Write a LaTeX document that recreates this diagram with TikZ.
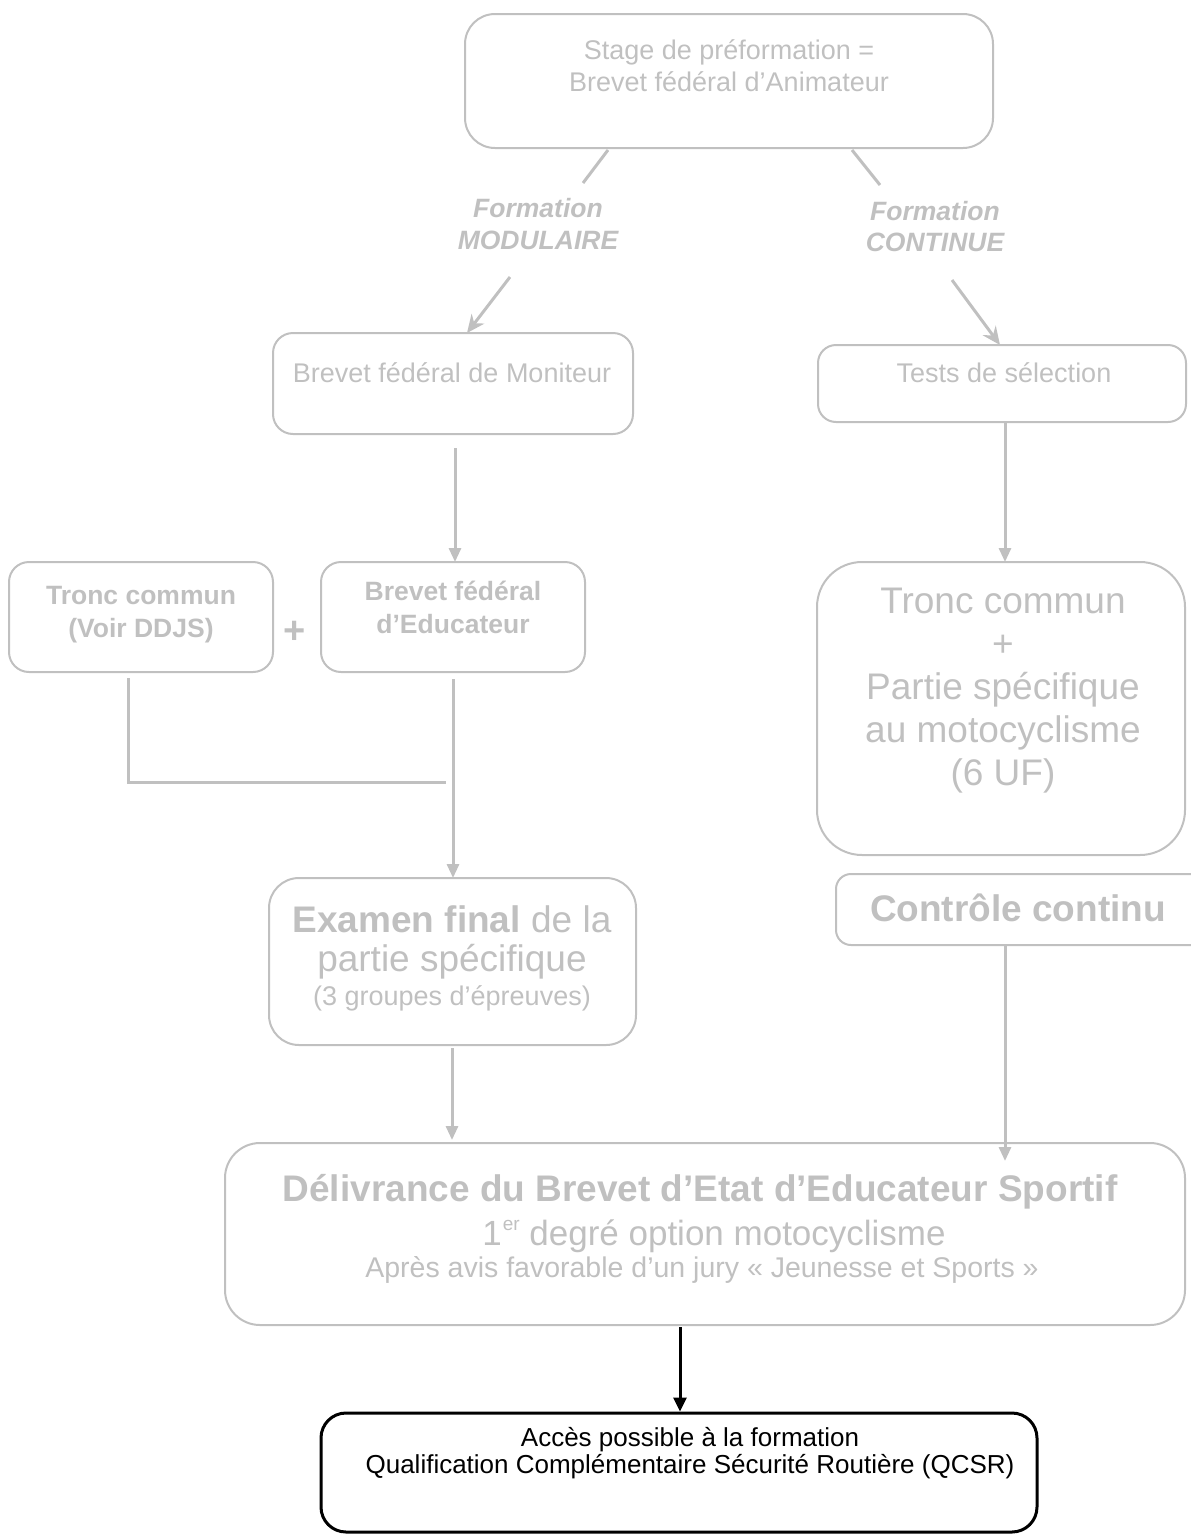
\documentclass[tikz,border=0pt]{standalone}
\usepackage{fontspec}
\setmainfont{Liberation Sans}
\usetikzlibrary{arrows.meta}
\definecolor{lg}{RGB}{192,192,192}
\begin{document}
\begin{tikzpicture}[x=1pt,y=-1pt,
  box/.style={draw=lg, line width=2pt, inner sep=0pt},
  conn/.style={draw=lg, line width=3pt},
  garrow/.style={conn, -{Triangle[length=14pt,width=12pt]}},
  darrow/.style={conn, -{Stealth[length=18pt,width=16pt,inset=6pt]}},
  txt/.style={text=lg, inner sep=0pt, anchor=base},
  fs/.style={font=\fontsize{27}{30}\selectfont},
  fsb/.style={font=\fontsize{26.5}{30}\selectfont\bfseries},
  fsbi/.style={font=\fontsize{26.5}{30}\selectfont\bfseries\itshape},
  fl/.style={font=\fontsize{37}{43}\selectfont},
  fm/.style={font=\fontsize{35}{42}\selectfont},
  flb/.style={font=\fontsize{37}{43}\selectfont\bfseries},
  fq/.style={font=\fontsize{26}{28}\selectfont},
]
\useasboundingbox (0,0) rectangle (1191,1537);
\clip (0,0) rectangle (1191,1537);

% boxes
\node[box, rounded corners=30pt, minimum width=528pt, minimum height=134pt] (top) at (729,81) {};
\node[box, rounded corners=20pt, minimum width=360pt, minimum height=101pt] (mon) at (453,383.5) {};
\node[box, rounded corners=18pt, minimum width=368pt, minimum height=77pt] (tests) at (1002,383.5) {};
\node[box, rounded corners=20pt, minimum width=264pt, minimum height=110pt] (troncL) at (141,617) {};
\node[box, rounded corners=20pt, minimum width=264pt, minimum height=110pt] (educ) at (453,617) {};
\node[box, rounded corners=45pt, minimum width=368pt, minimum height=293pt] (troncR) at (1001,708.5) {};
\node[box, rounded corners=15pt, minimum width=379pt, minimum height=71pt] (ctrl) at (1025.5,909.5) {};
\node[box, rounded corners=30pt, minimum width=367pt, minimum height=167pt] (exam) at (452.5,961.5) {};
\node[box, rounded corners=35pt, minimum width=960pt, minimum height=182pt] (deliv) at (705,1234) {};
\node[draw=black, line width=3pt, inner sep=0pt, rounded corners=25pt, minimum width=716pt, minimum height=119pt] (qcsr) at (679,1472.5) {};

% texts
\node[txt, fs] (t1) at (729,59) {Stage de préformation =};
\node[txt, fs] (t2) at (729,91) {Brevet fédéral d’Animateur};
\node[txt, fsbi] (lm1) at (538,217) {Formation};
\node[txt, fsbi] (lm2) at (538,249) {MODULAIRE};
\node[txt, fsbi] (lc1) at (935,220) {Formation};
\node[txt, fsbi] (lc2) at (935,251) {CONTINUE};
\node[txt, fs] (tmon) at (452,382) {Brevet fédéral de Moniteur};
\node[txt, fs] (ttests) at (1004,382) {Tests de sélection};
\node[txt, fsb] (tl1) at (141,604) {Tronc commun};
\node[txt, fsb] (tl2) at (141,637) {(Voir DDJS)};
\node[txt, fsb] (te1) at (453,600) {Brevet fédéral};
\node[txt, fsb] (te2) at (453,633) {d’Educateur};
\node[text=lg, inner sep=0pt, font=\fontsize{38}{38}\selectfont\bfseries] (plus) at (295,632) {+};
\node[txt, fl] (tr1) at (1003,613) {Tronc commun};
\node[txt, fl] (tr2) at (1003,656) {+};
\node[txt, fl] (tr3) at (1003,699) {Partie spécifique};
\node[txt, fl] (tr4) at (1003,742) {au motocyclisme};
\node[txt, fl] (tr5) at (1003,785) {(6 UF)};
\node[txt, flb] (tc) at (1018,921) {Contrôle continu};
\node[txt, fl] (tx1) at (452,932) {\textbf{Examen final} de la};
\node[txt, fl] (tx2) at (452,971) {partie spécifique};
\node[txt, fs] (tx3) at (452,1005) {(3 groupes d’épreuves)};
\node[txt, flb] (td1) at (700,1201) {Délivrance du Brevet d’Etat d’Educateur Sportif};
\node[txt, fm] (td2) at (714,1245) {1\kern1pt\raisebox{0.42em}{\fontsize{19}{19}\selectfont er} degré option motocyclisme};
\node[txt, font=\fontsize{28.5}{30}\selectfont] (td3) at (702,1277) {Après avis favorable d’un jury « Jeunesse et Sports »};
\node[anchor=base, inner sep=0pt, fq] (tq1) at (690,1446) {Accès possible à la formation};
\node[anchor=base, inner sep=0pt, fq] (tq2) at (690,1473) {Qualification Complémentaire Sécurité Routière (QCSR)};

% connectors
\coordinate (mA) at (608,150); \coordinate (mB) at (583,183);
\coordinate (mC) at (510,277); \coordinate (mD) at (467,333);
\draw[conn] (mA) -- (mB);
\draw[darrow] (mC) -- (mD);
\coordinate (cA) at (852,150); \coordinate (cB) at (880,185);
\coordinate (cC) at (952,280); \coordinate (cD) at (1000,345);
\draw[conn] (cA) -- (cB);
\draw[darrow] (cC) -- (cD);

\coordinate (m1) at (455,448); \coordinate (m2) at (455,562);
\draw[garrow] (m1) -- (m2);
\coordinate (s1) at (1005,422); \coordinate (s2) at (1005,562);
\draw[garrow] (s1) -- (s2);

\coordinate (l1) at (128,678); \coordinate (join) at (446,782);
\draw[conn] (l1) |- (join);
\coordinate (e1) at (453,679); \coordinate (e2) at (453,878);
\draw[garrow] (e1) -- (e2);

\coordinate (x1) at (452,1048); \coordinate (x2) at (452,1140);
\draw[garrow] (x1) -- (x2);
\coordinate (k1) at (1005,945); \coordinate (k2) at (1005,1161);
\draw[garrow] (k1) -- (k2);

\coordinate (b1) at (680,1327);
\draw[black, line width=3pt, -{Triangle[length=14pt,width=13pt]}] (b1) -- (b1 |- qcsr.north);
\end{tikzpicture}
\end{document}
